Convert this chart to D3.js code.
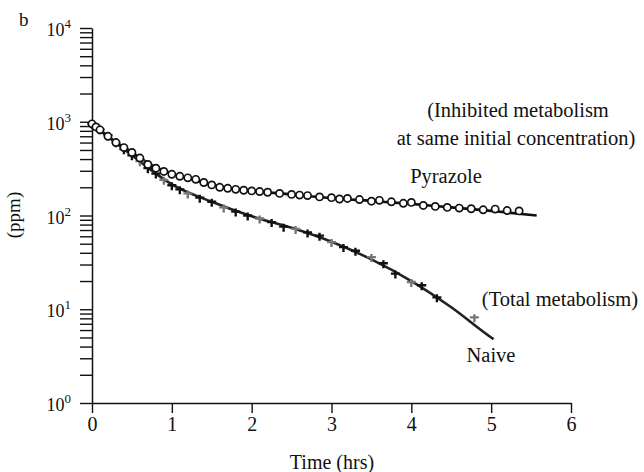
<!DOCTYPE html>
<html><head><meta charset="utf-8">
<script src="https://cdn.jsdelivr.net/npm/d3@7"></script>
<style>body{margin:0;background:#fff}svg{display:block}</style>
</head><body><svg id="c" width="644" height="472"></svg>
<script>
const FONT = "'Liberation Serif','DejaVu Serif','Times New Roman',serif";
const xTicks = [0,1,2,3,4,5,6];
const yDecades = [0,1,2,3,4];
const pyrazoleTime = [0,0.05,0.1,0.2,0.3,0.4,0.5,0.6,0.7,0.8,0.9,1.0,1.1,1.2,1.3,1.4,1.5,1.6,1.7,1.8,1.9,2.0,2.1,2.2,2.35,2.5,2.6,2.7,2.85,3.0,3.1,3.2,3.35,3.5,3.6,3.75,3.9,4.0,4.15,4.3,4.45,4.6,4.75,4.9,5.05,5.2,5.35];
const pyrazolePpm = [950,880,820,700,600,530,470,410,350,320,295,275,262,252,243,225,212,200,195,190,186,183,180,177,172,168,165,163,158,155,150,152,148,142,145,140,135,138,128,125,122,120,118,115,117,113,112];
const pyrazoleFitTime = [0,0.25,0.5,0.75,1,1.25,1.5,1.75,2,2.5,3,3.5,4,4.5,5,5.57];
const pyrazoleFitPpm = [950,650,470,345,280,242,214,195,183,168,153,143,133,122,112,100];
const naiveTime = [0,0.05,0.1,0.2,0.3,0.4,0.5,0.6,0.7,0.8,0.9,1.0,1.1,1.2,1.35,1.5,1.65,1.8,1.95,2.1,2.25,2.4,2.55,2.7,2.85,3.0,3.15,3.3,3.5,3.65,3.8,4.0,4.13,4.32,4.79];
const naivePpm = [950,900,830,720,600,510,440,380,320,280,240,210,190,172,155,140,122,110,100,93,85,76,72,66,61,52,46,42,36,31,24,19.5,18,13.4,8.2];
const naiveFitTime = [0,0.5,1,1.5,2,2.5,3,3.5,4,4.5,5,5.03];
const naiveFitPpm = [950,440,215,140,98,74,52.5,34,20,10.5,5.0,4.8];

const svg = d3.select("#c");
const x = d3.scaleLinear().domain([0,6]).range([92,571]);
const y = d3.scaleLog().domain([1,10000]).range([403,28]);

function txt(sel){ return sel.attr("style","font-family:"+FONT).attr("fill","#111"); }

// y axis with log minor ticks
const minor = [];
yDecades.forEach(d=>{ if(d<4) for(let k=1;k<10;k++) minor.push(k*Math.pow(10,d)); });
minor.push(10000);
const gy = svg.append("g").attr("transform","translate(92,0)")
  .call(d3.axisLeft(y).tickValues(minor).tickSize(12).tickSizeOuter(0).tickFormat(""));
gy.select(".domain").attr("stroke","#111").attr("stroke-width",1.5);
gy.selectAll(".tick line").attr("stroke","#111").attr("stroke-width",1.4);
yDecades.forEach(d=>{
  const t = txt(svg.append("text")).attr("x",71).attr("y",y(Math.pow(10,d))+8).attr("text-anchor","end").attr("font-size",18);
  t.append("tspan").text("10");
  t.append("tspan").attr("dy",-8).attr("font-size",13).text(String(d));
});
// x axis
const gx = svg.append("g").attr("transform","translate(0,403)")
  .call(d3.axisBottom(x).tickValues(xTicks).tickSize(10).tickSizeOuter(0).tickPadding(4).tickFormat(d3.format("d")));
gx.select(".domain").attr("stroke","#111").attr("stroke-width",1.5);
gx.selectAll(".tick line").attr("stroke","#111").attr("stroke-width",1.4);
gx.selectAll(".tick text").attr("font-size",20).attr("style","font-family:"+FONT).attr("fill","#111");

const line = d3.line().x(d=>x(d[0])).y(d=>y(d[1])).curve(d3.curveMonotoneX);
svg.append("path").datum(naiveFitTime.map((t,i)=>[t,naiveFitPpm[i]])).attr("d",line)
  .attr("fill","none").attr("stroke","#222").attr("stroke-width",2.6);
svg.append("path").datum(pyrazoleFitTime.map((t,i)=>[t,pyrazoleFitPpm[i]])).attr("d",line)
  .attr("fill","none").attr("stroke","#111").attr("stroke-width",2.6);

// naive markers (plus signs)
const nm = svg.append("g");
naiveTime.forEach((t,i)=>{
  const cx=x(t), cy=y(naivePpm[i]);
  nm.append("path").attr("d",`M${cx-4.5},${cy}H${cx+4.5}M${cx},${cy-3}V${cy+5}`)
    .attr("stroke", i%3===1 ? "#777" : "#111").attr("stroke-width",2.4);
});
// pyrazole markers (open circles)
svg.append("g").selectAll("circle").data(pyrazoleTime.map((t,i)=>[t,pyrazolePpm[i]])).join("circle")
  .attr("cx",d=>x(d[0])).attr("cy",d=>y(d[1])).attr("r",3.6)
  .attr("fill","#fff").attr("stroke","#111").attr("stroke-width",1.7);

// texts
txt(svg.append("text")).attr("x",19).attr("y",26).attr("font-size",19).text("b");
txt(svg.append("text")).attr("transform","translate(20,215) rotate(-90)").attr("text-anchor","middle").attr("font-size",19).text("(ppm)");
txt(svg.append("text")).attr("x",332).attr("y",469).attr("text-anchor","middle").attr("font-size",20).text("Time (hrs)");
txt(svg.append("text")).attr("x",518).attr("y",117).attr("text-anchor","middle").attr("font-size",20.5).text("(Inhibited metabolism");
txt(svg.append("text")).attr("x",516).attr("y",145).attr("text-anchor","middle").attr("font-size",20.5).text("at same initial concentration)");
txt(svg.append("text")).attr("x",446).attr("y",183).attr("text-anchor","middle").attr("font-size",20.5).text("Pyrazole");
txt(svg.append("text")).attr("x",560).attr("y",306).attr("text-anchor","middle").attr("font-size",20.5).text("(Total metabolism)");
txt(svg.append("text")).attr("x",491).attr("y",362).attr("text-anchor","middle").attr("font-size",20.5).text("Naive");
</script></body></html>
